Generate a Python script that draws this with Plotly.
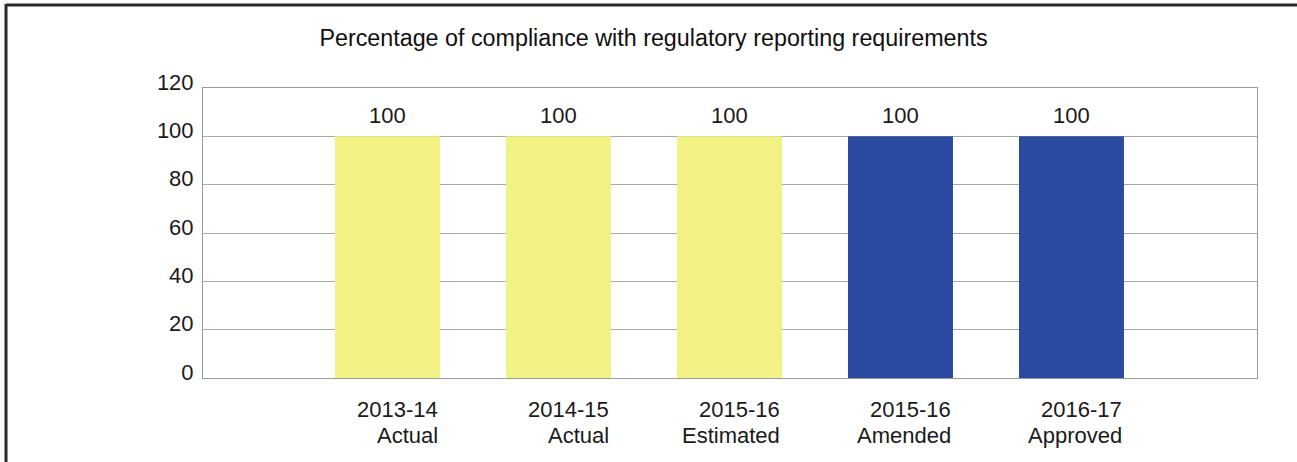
import plotly.graph_objects as go

categories_year = ["2013-14", "2014-15", "2015-16", "2015-16", "2016-17"]
categories_type = ["Actual", "Actual", "Estimated", "Amended", "Approved"]
values = [100, 100, 100, 100, 100]
bar_colors = ["#F1F184", "#F1F184", "#F1F184", "#2A4BA0", "#2A4BA0"]
y_ticks = [0, 20, 40, 60, 80, 100, 120]
title_text = "Percentage of compliance with regulatory reporting requirements"

FONT = "Liberation Sans, Arial, sans-serif"
BAR_W = 0.614
xs = list(range(len(values)))

fig = go.Figure()
fig.add_trace(go.Bar(
    x=xs, y=values, width=BAR_W,
    marker=dict(color=bar_colors, line=dict(width=0)),
    hoverinfo="skip", showlegend=False,
))

annotations = []
for i, v in enumerate(values):
    annotations.append(dict(
        x=i, y=v, xref="x", yref="y", text=str(v), showarrow=False,
        xanchor="center", yanchor="middle", yshift=21,
        font=dict(family=FONT, size=22, color="#1a1a1a"),
    ))
    annotations.append(dict(
        x=i + BAR_W / 2, y=0, xref="x", yref="y", text=categories_year[i],
        showarrow=False, xanchor="right", yanchor="middle", yshift=-31,
        font=dict(family=FONT, size=22, color="#1a1a1a"),
    ))
    annotations.append(dict(
        x=i + BAR_W / 2, y=0, xref="x", yref="y", text=categories_type[i],
        showarrow=False, xanchor="right", yanchor="middle", yshift=-57,
        font=dict(family=FONT, size=22, color="#1a1a1a"),
    ))

fig.update_layout(
    width=1297, height=462,
    margin=dict(l=203, r=40, t=88, b=84),
    paper_bgcolor="white", plot_bgcolor="white",
    title=dict(text=title_text, x=653.5 / 1297, xref="container", xanchor="center",
               y=1 - 38 / 462, yref="container", yanchor="middle",
               font=dict(family=FONT, size=23.3, color="#111111")),
    xaxis=dict(range=[-1.079, 5.085], showticklabels=False, ticks="",
               showgrid=False, zeroline=False,
               showline=True, linecolor="#9a9a9a", linewidth=1, mirror=True),
    yaxis=dict(range=[0, 120], tickvals=y_ticks, ticks="",
               showgrid=True, gridcolor="#a8a8a8", gridwidth=1,
               zeroline=False, showline=True, linecolor="#9a9a9a",
               linewidth=1, mirror=True, ticklabelshift=-6,
               ticklabelstandoff=4,
               tickfont=dict(family=FONT, size=22, color="#1a1a1a")),
    annotations=annotations,
    bargap=0.4,
    shapes=[
        dict(type="line", xref="paper", yref="paper",
             x0=(6 - 203) / 1054, x1=(6 - 203) / 1054,
             y0=(378 - 4) / 290, y1=(378 - 470) / 290,
             line=dict(color="#2a2a2a", width=3)),
        dict(type="line", xref="paper", yref="paper",
             x0=(6 - 203) / 1054, x1=(1300 - 203) / 1054,
             y0=(378 - 5) / 290, y1=(378 - 5) / 290,
             line=dict(color="#2a2a2a", width=3)),
    ],
)

fig.write_html("out.html", config={"displayModeBar": False},
               post_script="document.body.style.margin='0';")
